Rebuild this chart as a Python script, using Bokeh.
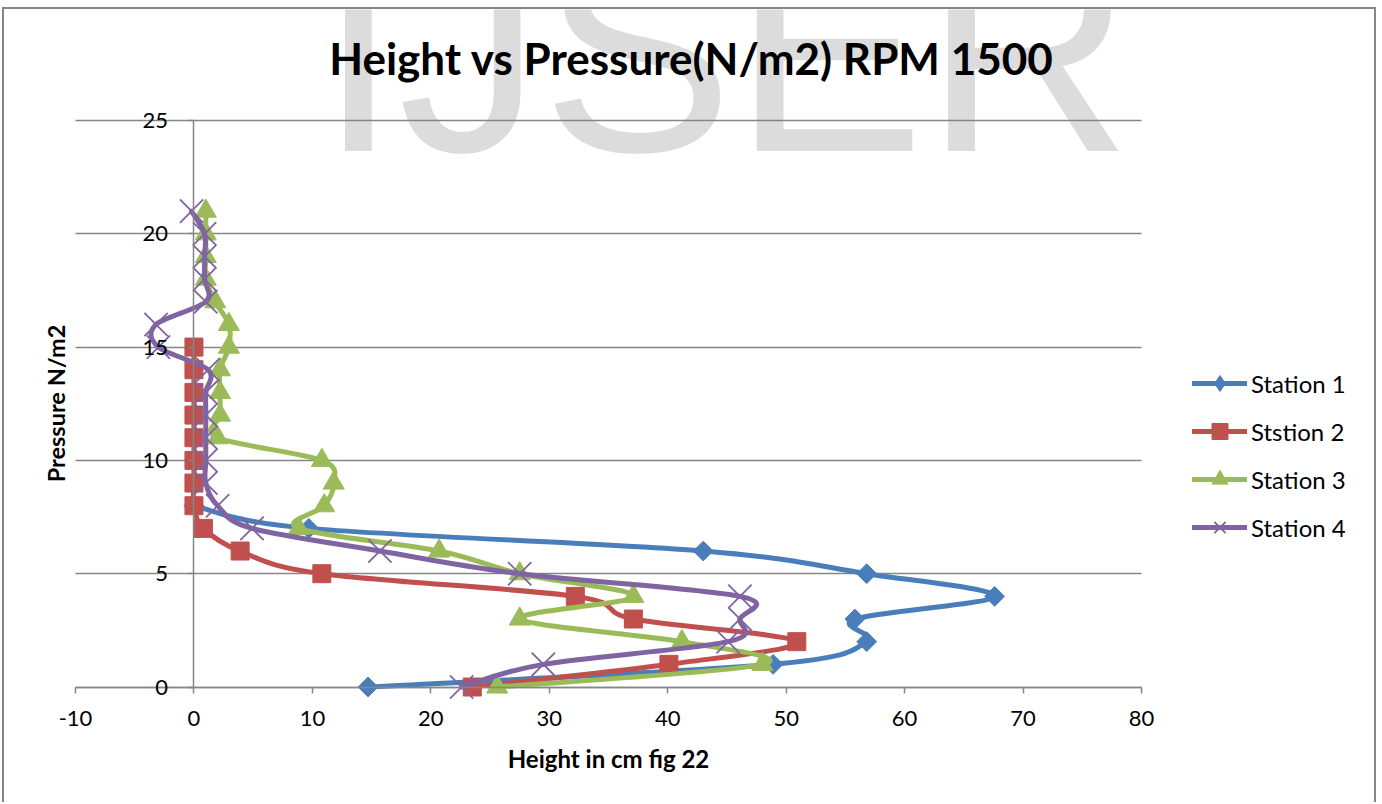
import math
from bokeh.plotting import figure
from bokeh.models import (Range1d, LinearAxis, FixedTicker, Legend, LegendItem,
                          Label, ColumnDataSource, Grid)
from bokeh.embed import file_html
from bokeh.resources import INLINE

# ---------------- data ----------------
pressure_1 = [0, 1, 2, 3, 4, 5, 6, 7, 8]
height_1 = [14.7, 48.9, 56.8, 55.8, 67.6, 56.8, 43.0, 9.7, 0.0]

pressure_2 = [0, 1, 2, 3, 4, 5, 6, 7, 8, 9, 10, 11, 12, 13, 14, 15]
height_2 = [23.5, 40.1, 50.9, 37.1, 32.2, 10.8, 3.9, 0.8, 0, 0, 0, 0, 0, 0, 0, 0]

pressure_3 = [0, 1, 2, 3, 4, 5, 6, 7, 8, 9, 10, 11, 12, 13, 14, 15, 16, 17, 18, 19, 20, 21]
height_3 = [25.6, 48.0, 41.2, 27.5, 37.1, 27.5, 20.7, 8.85, 11.0, 11.8, 10.8, 2.0,
            2.2, 2.2, 2.2, 2.95, 2.95, 1.8, 1.0, 1.0, 1.0, 1.0]

pressure_4 = [0, 1, 2, 3, 4, 5, 6, 7, 8, 9, 10, 11, 12, 13, 14, 15, 16, 17, 18, 19, 20, 21]
height_4 = [22.6, 29.5, 45.1, 46.1, 46.1, 27.5, 15.7, 4.9, 2.0, 1.0, 1.0, 1.0,
            1.0, 1.0, 1.2, -3.0, -3.2, 1.0, 0.9, 0.9, 0.9, -0.2]

series_names = ["Station 1", "Ststion 2", "Station 3", "Station 4"]
x_ticks = [-10, 0, 10, 20, 30, 40, 50, 60, 70, 80]
y_ticks = [0, 5, 10, 15, 20, 25]

title_text = "Height vs Pressure(N/m2) RPM 1500"
x_title = "Height in cm fig 22"
y_title = "Pressure N/m2"
watermark = "IJSER"

# ---------------- styling / layout ----------------
colors = ["#4A7EBB", "#C0504D", "#9BBB59", "#8064A2"]
GRID = "#868686"
FONT = "Lato"

X_MIN, X_MAX = -10, 80
Y_MIN, Y_MAX = 0, 25
# page pixels of the plot area and of the canvas
PX_LEFT, PX_RIGHT, PX_TOP, PX_BOTTOM = 75.0, 1141.0, 120.0, 686.5
CANVAS_L, CANVAS_T, CANVAS_W, CANVAS_H = 4.0, 9.0, 1374, 795
CANVAS_R, CANVAS_B = CANVAS_L + CANVAS_W, CANVAS_T + CANVAS_H

y_per_px = (Y_MAX - Y_MIN) / (PX_BOTTOM - PX_TOP)
x_per_px = (X_MAX - X_MIN) / (PX_RIGHT - PX_LEFT)


def to_y(px):
    return Y_MIN + (PX_BOTTOM - px) * y_per_px


def to_x(px):
    return X_MIN + (px - PX_LEFT) * x_per_px


def smooth_source(xs, ys):
    """Bezier control points (Catmull-Rom style, like Excel's smoothed line)."""
    n = len(xs)
    d = dict(x0=[], y0=[], x1=[], y1=[], cx0=[], cy0=[], cx1=[], cy1=[])
    for i in range(n - 1):
        xm, ym = (xs[i - 1], ys[i - 1]) if i > 0 else (xs[i], ys[i])
        xp, yp = (xs[i + 2], ys[i + 2]) if i + 2 < n else (xs[i + 1], ys[i + 1])
        d["x0"].append(xs[i]); d["y0"].append(ys[i])
        d["x1"].append(xs[i + 1]); d["y1"].append(ys[i + 1])
        d["cx0"].append(xs[i] + (xs[i + 1] - xm) / 6.0)
        d["cy0"].append(ys[i] + (ys[i + 1] - ym) / 6.0)
        d["cx1"].append(xs[i + 1] - (xp - xs[i]) / 6.0)
        d["cy1"].append(ys[i + 1] - (yp - ys[i]) / 6.0)
    return ColumnDataSource(d)


# the frame covers the whole canvas; the value ranges are chosen so that the
# plot area (-10..80, 0..25) lands where it is in the reference
p = figure(width=CANVAS_W, height=CANVAS_H,
           x_range=Range1d(to_x(CANVAS_L), to_x(CANVAS_R)),
           y_range=Range1d(to_y(CANVAS_B), to_y(CANVAS_T)),
           x_axis_location=None, y_axis_location=None,
           output_backend="svg", toolbar_location=None,
           min_border_left=0, min_border_right=0,
           min_border_top=0, min_border_bottom=0)
p.styles = {"margin-left": "2px", "margin-top": "7px",
            "border": "2px solid #868686", "border-bottom": "none"}
p.outline_line_color = None
p.background_fill_color = "white"
p.border_fill_color = "white"
p.grid.visible = False

# watermark
p.add_layout(Label(x=to_x(318), y=to_y(51), text=watermark, text_font="Liberation Sans",
                   text_font_size="287px", text_color="#DCDCDC",
                   text_baseline="alphabetic", text_align="left", level="image"))

# horizontal grid, limited to the plot area
p.add_layout(Grid(dimension=1, ticker=FixedTicker(ticks=y_ticks),
                  cross_bounds=(X_MIN, X_MAX),
                  grid_line_color=GRID, grid_line_width=1.5))

# x axis at y = 0
xa = LinearAxis(fixed_location=0, bounds=(X_MIN, X_MAX), ticker=FixedTicker(ticks=x_ticks),
                axis_line_color=GRID, axis_line_width=1.5,
                major_tick_line_color=GRID, major_tick_line_width=1.5,
                major_tick_out=6, major_tick_in=0, minor_tick_line_color=None,
                major_label_text_font=FONT, major_label_text_font_size="22px",
                major_label_text_color="black", major_label_standoff=18,
                major_label_overrides={-10: "-10"},
                axis_label=x_title, axis_label_text_font=FONT,
                axis_label_text_font_style="bold", axis_label_text_font_size="24px",
                axis_label_text_color="black", axis_label_standoff=14)
p.add_layout(xa, "below")

# vertical axis crossing at x = 0
ya = LinearAxis(fixed_location=0, bounds=(Y_MIN, Y_MAX), ticker=FixedTicker(ticks=y_ticks),
                axis_line_color=GRID, axis_line_width=1.5,
                major_tick_line_color=GRID, major_tick_line_width=1.5,
                major_tick_out=5, major_tick_in=0, minor_tick_line_color=None,
                major_label_standoff=21, major_label_text_font=FONT,
                major_label_text_font_size="22px", major_label_text_color="black")
p.add_layout(ya, "left")

# vertical axis title
p.add_layout(Label(x=to_x(55), y=to_y(403), text=y_title, angle=math.pi / 2,
                   text_font=FONT, text_font_style="bold", text_font_size="23.5px",
                   text_color="black", text_align="center", text_baseline="middle"))

# chart title (centred on the whole chart area)
p.add_layout(Label(x=to_x(691), y=to_y(57), text=title_text, text_font=FONT,
                   text_font_style="bold", text_font_size="44px", text_color="black",
                   text_align="center", text_baseline="alphabetic"))

# series
data = [(height_1, pressure_1), (height_2, pressure_2), (height_3, pressure_3), (height_4, pressure_4)]
markers = [("square", math.pi / 4, 14), ("square", 0, 18), ("triangle", 0, 21), ("x", 0, 33)]
items = []
for (xs, ys), col, (mk, ang, sz), name in zip(data, colors, markers, series_names):
    b = p.bezier(x0="x0", y0="y0", x1="x1", y1="y1", cx0="cx0", cy0="cy0",
                 cx1="cx1", cy1="cy1", source=smooth_source(xs, ys),
                 line_color=col, line_width=5, line_cap="round")
    src = ColumnDataSource(dict(x=xs, y=ys))
    if mk == "x":
        s = p.scatter("x", "y", source=src, marker=mk, size=sz, line_color=col, line_width=1.8)
        leg = [b, s]
    elif ang:
        s = p.scatter("x", "y", source=src, marker=mk, size=sz, angle=ang,
                      fill_color=col, line_color=col, line_width=1)
        # legend swatch of the diamond (not drawn in the plot)
        d = p.scatter("x", "y", source=src, marker="diamond", size=sz,
                      fill_color=col, line_color=col, line_width=1, visible=False)
        leg = [b, d]
    else:
        s = p.scatter("x", "y", source=src, marker=mk, size=sz,
                      fill_color=col, line_color=col, line_width=1)
        leg = [b, s]
    items.append(LegendItem(label=name, renderers=leg))

legend = Legend(items=items, location=(1192 - CANVAS_L, CANVAS_B - 547.3),
                orientation="vertical",
                glyph_width=55, glyph_height=40, label_height=20, spacing=8,
                padding=5, margin=0, border_line_color=None, background_fill_alpha=0,
                label_text_font=FONT, label_text_font_size="24px",
                label_text_color="black", label_standoff=4)
p.add_layout(legend)

open("out.html", "w").write(file_html(p, INLINE))
